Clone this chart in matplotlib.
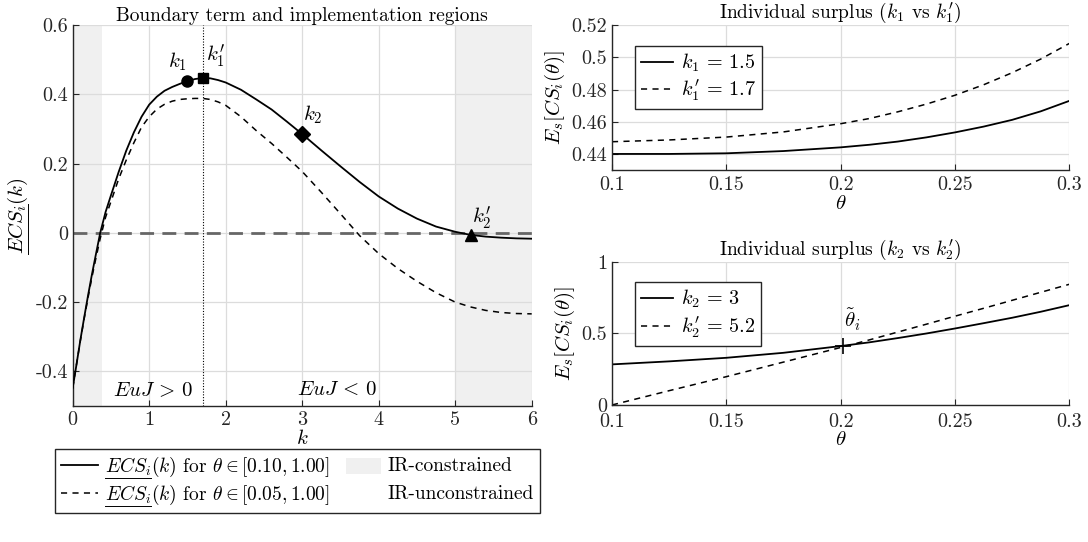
import matplotlib as mpl
mpl.use('Agg')

import matplotlib.pyplot as plt
from matplotlib.lines import Line2D
from matplotlib.patches import Rectangle

plt.rcParams['font.family'] = 'serif'
plt.rcParams['font.serif'] = ['cmr10', 'DejaVu Serif']
plt.rcParams['mathtext.fontset'] = 'cm'
plt.rcParams['axes.unicode_minus'] = False
plt.rcParams['axes.formatter.use_mathtext'] = True
plt.rcParams['font.size'] = 14

# left panel: boundary term vs k
k_grid = [0, 0.05, 0.1, 0.15, 0.2, 0.25, 0.3, 0.36, 0.43, 0.5, 0.6, 0.7, 0.8, 0.9,
          1.0, 1.1, 1.2, 1.3, 1.4, 1.5, 1.6, 1.7, 1.8, 1.9, 2.0, 2.2, 2.4, 2.6, 2.8,
          3.0, 3.25, 3.5, 3.75, 4.0, 4.25, 4.5, 4.75, 5.0, 5.2, 5.4, 5.6, 5.8, 6.0]
ecs_010 = [-0.448, -0.38, -0.31, -0.245, -0.182, -0.122, -0.066, 0.0, 0.06, 0.108,
           0.175, 0.237, 0.29, 0.335, 0.37, 0.393, 0.41, 0.421, 0.43, 0.438, 0.444,
           0.447, 0.446, 0.441, 0.434, 0.413, 0.385, 0.356, 0.321, 0.285, 0.238,
           0.192, 0.147, 0.105, 0.07, 0.041, 0.018, 0.003, -0.006, -0.011, -0.014,
           -0.016, -0.017]
ecs_005 = [-0.448, -0.38, -0.312, -0.248, -0.188, -0.13, -0.077, -0.016, 0.045, 0.09,
           0.155, 0.21, 0.26, 0.305, 0.335, 0.357, 0.371, 0.38, 0.385, 0.387, 0.388,
           0.388, 0.385, 0.378, 0.368, 0.335, 0.295, 0.258, 0.218, 0.177, 0.117,
           0.055, -0.008, -0.06, -0.103, -0.14, -0.173, -0.2, -0.214, -0.224, -0.23,
           -0.233, -0.234]

# highlighted points
k_marks = [1.5, 1.7, 3.0, 5.2]
ecs_marks = [0.438, 0.447, 0.285, -0.006]
mark_styles = ['o', 's', 'D', '^']
mark_labels = [r'$k_1$', r'$k^{\prime}_1$', r'$k_2$', r'$k^{\prime}_2$']

# IR-constrained regions
ir_regions = [(0, 0.38), (5.0, 6.0)]
ir_labels = ['IR-constrained', 'IR-unconstrained']
ir_colors = ['#f0f0f0', 'white']

# right panels: surplus vs theta
theta = [0.1, 0.125, 0.15, 0.175, 0.2, 0.2125, 0.225, 0.2375, 0.25, 0.2625, 0.275,
         0.2875, 0.3]
cs_k1 = [0.44, 0.44, 0.4404, 0.4418, 0.4441, 0.4457, 0.4477, 0.4503, 0.4534, 0.457,
         0.4612, 0.4665, 0.473]
cs_k1p = [0.4476, 0.4487, 0.4505, 0.4537, 0.4588, 0.462, 0.4662, 0.471, 0.4765, 0.483,
          0.4905, 0.499, 0.5087]
cs_k2 = [0.284, 0.305, 0.33, 0.365, 0.412, 0.438, 0.468, 0.5, 0.535, 0.572, 0.61,
         0.652, 0.698]
cs_k2p = [0.0, 0.1, 0.198, 0.3, 0.402, 0.455, 0.51, 0.565, 0.621, 0.676, 0.732, 0.788,
          0.844]
theta_cross = 0.201
cs_cross = 0.415

axcol = '#262626'
gridcol = '#dcdcdc'
dash = (0, (4, 3.5))


def style_ax(ax, xpad=4):
  for s in ['top', 'right']:
    ax.spines[s].set_visible(False)
  for s in ['left', 'bottom']:
    ax.spines[s].set_color(axcol)
    ax.spines[s].set_linewidth(1.0)
  ax.tick_params(direction='in', length=4, color=axcol, labelcolor=axcol,
                 labelsize=14.5)
  ax.tick_params(axis='x', pad=xpad)
  ax.grid(True, color=gridcol, linewidth=0.9)
  ax.set_axisbelow(True)


def frame(leg):
  leg.get_frame().set_edgecolor(axcol)
  leg.get_frame().set_linewidth(1.0)


fig = plt.figure(figsize=(10.88, 5.42), dpi=100)

# ---- left panel
ax = fig.add_axes([0.0668, 0.2509, 0.4219, 0.703])
style_ax(ax)
for a, b in ir_regions:
  ax.axvspan(a, b, color=ir_colors[0], lw=0, zorder=0)
ax.axhline(0, color='#666666', lw=2, ls=(0, (5, 3)), zorder=2)
ax.axvline(1.7, color='k', lw=0.8, ls=(0, (1, 1.5)), zorder=2)
ax.plot(k_grid, ecs_005, color='k', lw=1.1, ls=dash, zorder=3)
ax.plot(k_grid, ecs_010, color='k', lw=1.3, zorder=3)
for kx, ky, m in zip(k_marks, ecs_marks, mark_styles):
  ax.plot(kx, ky, marker=m, color='k', ms=8 if m != 's' else 7, zorder=4)
offs = [(-0.13, 0.055), (0.17, 0.065), (0.14, 0.055), (0.15, 0.05)]
for kx, ky, lab, (dx, dy) in zip(k_marks, ecs_marks, mark_labels, offs):
  ax.text(kx + dx, ky + dy, lab, ha='center', va='center', fontsize=15)
ax.text(1.05, -0.455, r'$EuJ\,>\,0$', ha='center', va='center', fontsize=15)
ax.text(3.45, -0.455, r'$EuJ\,<\,0$', ha='center', va='center', fontsize=15)
ax.set_xlim(0, 6)
ax.set_ylim(-0.5, 0.6)
ax.set_xticks(range(7))
ax.set_yticks([-0.4, -0.2, 0, 0.2, 0.4, 0.6])
ax.set_yticklabels(['-0.4', '-0.2', '0', '0.2', '0.4', '0.6'])
ax.set_xticklabels([str(i) for i in range(7)])
ax.set_xlabel(r'$k$', fontsize=15, labelpad=0)
ylab = ax.set_ylabel(r'$ECS_i(k)$', fontsize=15)
ax.set_title('Boundary term and implementation regions', fontsize=14, pad=3)

# ---- top right
ax1 = fig.add_axes([0.5625, 0.6863, 0.4203, 0.267])
style_ax(ax1)
ax1.plot(theta, cs_k1, color='k', lw=1.3, label=r'$k_1\,=\,1.5$')
ax1.plot(theta, cs_k1p, color='k', lw=1.1, ls=dash, label=r'$k^{\prime}_1\,=\,1.7$')
ax1.set_xlim(0.1, 0.3)
ax1.set_ylim(0.43, 0.52)
ax1.set_xticks([0.1, 0.15, 0.2, 0.25, 0.3])
ax1.set_xticklabels(['0.1', '0.15', '0.2', '0.25', '0.3'])
ax1.set_yticks([0.44, 0.46, 0.48, 0.5, 0.52])
ax1.set_yticklabels(['0.44', '0.46', '0.48', '0.5', '0.52'])
ax1.set_xlabel(r'$\theta$', fontsize=15, labelpad=1)
ax1.set_ylabel(r'$E_s[CS_i(\theta)]$', fontsize=15, labelpad=3)
ax1.set_title(r'Individual surplus ($k_1$ vs $k^{\prime}_1$)', fontsize=14, pad=3)
leg1 = ax1.legend(loc='upper left', bbox_to_anchor=(0.05, 0.86), fontsize=14.5,
                  handlelength=1.6, fancybox=False, framealpha=1, borderpad=0.3,
                  labelspacing=0.2, handletextpad=0.4, borderaxespad=0)
frame(leg1)

# ---- bottom right
ax2 = fig.add_axes([0.5625, 0.2528, 0.4203, 0.2638])
style_ax(ax2, xpad=6)
ax2.plot(theta, cs_k2, color='k', lw=1.3, label=r'$k_2\,=\,3$')
ax2.plot(theta, cs_k2p, color='k', lw=1.1, ls=dash, label=r'$k^{\prime}_2\,=\,5.2$')
ax2.plot(theta_cross, cs_cross, marker='+', color='k', ms=11, mew=1.2, zorder=4)
ax2.text(theta_cross + 0.0003, cs_cross + 0.09, r'$\tilde{\theta}_i$', ha='left',
         va='bottom', fontsize=15)
ax2.set_xlim(0.1, 0.3)
ax2.set_ylim(0, 1)
ax2.set_xticks([0.1, 0.15, 0.2, 0.25, 0.3])
ax2.set_xticklabels(['0.1', '0.15', '0.2', '0.25', '0.3'])
ax2.set_yticks([0, 0.5, 1])
ax2.set_yticklabels(['0', '0.5', '1'])
ax2.set_xlabel(r'$\theta$', fontsize=15, labelpad=0)
ax2.set_ylabel(r'$E_s[CS_i(\theta)]$', fontsize=15, labelpad=3)
ax2.set_title(r'Individual surplus ($k_2$ vs $k^{\prime}_2$)', fontsize=14, pad=3)
leg2 = ax2.legend(loc='upper left', bbox_to_anchor=(0.05, 0.86), fontsize=14.5,
                  handlelength=1.6, fancybox=False, framealpha=1, borderpad=0.3,
                  labelspacing=0.2, handletextpad=0.4, borderaxespad=0)
frame(leg2)

# ---- shared legend under left panel (line column as a legend, region column added)
handles = [
  Line2D([], [], color='k', lw=1.3),
  Line2D([], [], color='k', lw=1.1, ls=dash),
]
labels = [
  r'$ECS_i(k)$ for $\theta\in[0.10,1.00]$',
  r'$ECS_i(k)$ for $\theta\in[0.05,1.00]$',
]
legf = fig.legend(handles, labels, loc='upper left', mode='expand',
                  bbox_to_anchor=(0.0506, 0.05, 0.4458, 0.1215), fontsize=14,
                  fancybox=False, framealpha=1, handlelength=1.9, borderpad=0.3,
                  labelspacing=0.2, handletextpad=0.35, borderaxespad=0)
frame(legf)

fig.canvas.draw()
rend = fig.canvas.get_renderer()
inv = fig.transFigure.inverted()

for t, lab, col in zip(legf.get_texts(), ir_labels, ir_colors):
  bb = t.get_window_extent(rend)
  yc = (bb.y0 + bb.y1) / 2 + 1
  x_patch = fig.transFigure.transform((346 / 1088, 0))[0]
  p = inv.transform((x_patch, yc - 8))
  fig.add_artist(Rectangle(p, 35 / 1088, 16 / 542, facecolor=col, edgecolor='none',
                           transform=fig.transFigure, zorder=20))
  q = inv.transform((x_patch + 41, yc))
  fig.text(q[0], q[1], lab, ha='left', va='center', fontsize=14, zorder=20)


# underline the "ECS_i" part of the labels (mathtext has no \underline)
def ecs_width(size):
  tmp = fig.text(0, 0, r'$ECS_i$', fontsize=size)
  w = tmp.get_window_extent(rend).width
  tmp.remove()
  return w


for t in legf.get_texts():
  bb = t.get_window_extent(rend)
  w = ecs_width(t.get_fontsize())
  p0 = inv.transform((bb.x0, bb.y0 + 1.5))
  p1 = inv.transform((bb.x0 + w, bb.y0 + 1.5))
  fig.add_artist(Line2D([p0[0], p1[0]], [p0[1], p1[1]], color='k', lw=0.7,
                        transform=fig.transFigure, zorder=20))

bb = ylab.get_window_extent(rend)
w = ecs_width(ylab.get_fontsize())
p0 = inv.transform((bb.x1 - 1.5, bb.y0))
p1 = inv.transform((bb.x1 - 1.5, bb.y0 + w))
fig.add_artist(Line2D([p0[0], p1[0]], [p0[1], p1[1]], color='k', lw=0.7,
                      transform=fig.transFigure, zorder=20))

plt.savefig('out.png', dpi=100)
